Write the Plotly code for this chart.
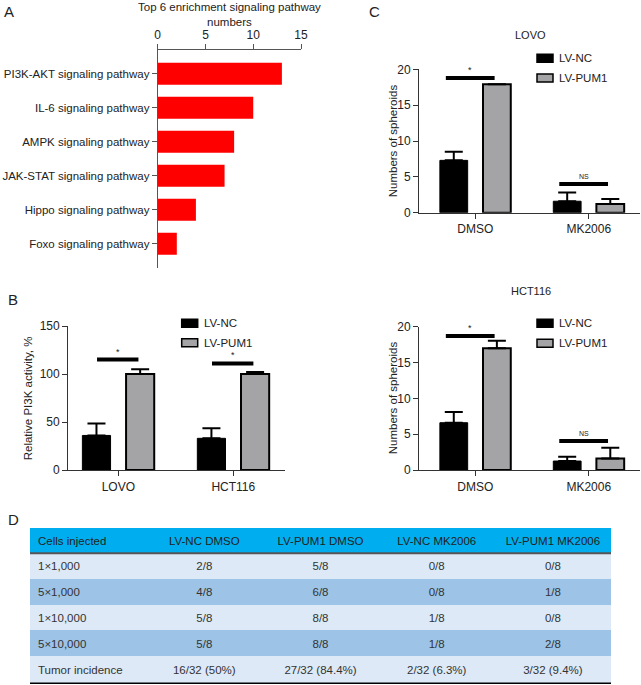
import plotly.graph_objects as go

W, H = 641, 685

# ---------------- data ----------------
pathways = ["PI3K-AKT signaling pathway", "IL-6 signaling pathway", "AMPK signaling pathway",
            "JAK-STAT signaling pathway", "Hippo signaling pathway", "Foxo signaling pathway"]
pathway_counts = [13, 10, 8, 7, 4, 2]

series_names = ["LV-NC", "LV-PUM1"]

b_groups = ["LOVO", "HCT116"]
b_nc = [36, 33]
b_nc_err = [12.5, 10.5]
b_pum1 = [100, 100]
b_pum1_err = [5, 2]
b_sig_y = [115, 111]
b_sig_text = ["*", "*"]

c_groups = ["DMSO", "MK2006"]
lovo_nc = [7.3, 1.6]
lovo_nc_err = [1.2, 1.2]
lovo_pum1 = [17.9, 1.2]
lovo_pum1_err = [0, 0.7]
lovo_sig_y = [18.8, 4.0]
lovo_sig_text = ["*", "NS"]

hct_nc = [6.6, 1.25]
hct_nc_err = [1.5, 0.6]
hct_pum1 = [17.0, 1.6]
hct_pum1_err = [1.05, 1.5]
hct_sig_y = [18.7, 4.05]
hct_sig_text = ["*", "NS"]

table_header = ["Cells injected", "LV-NC DMSO", "LV-PUM1 DMSO", "LV-NC MK2006", "LV-PUM1 MK2006"]
cells_injected = ["1\u00d71,000", "5\u00d71,000", "1\u00d710,000", "5\u00d710,000", "Tumor incidence"]
nc_dmso = ["2/8", "4/8", "5/8", "5/8", "16/32 (50%)"]
pum1_dmso = ["5/8", "6/8", "8/8", "8/8", "27/32 (84.4%)"]
nc_mk = ["0/8", "0/8", "1/8", "1/8", "2/32 (6.3%)"]
pum1_mk = ["0/8", "1/8", "0/8", "2/8", "3/32 (9.4%)"]

# ---------------- helpers ----------------
def px(x):
    return x / W

def py(y):
    return 1 - y / H

FONT = "Liberation Sans, Arial, Helvetica, sans-serif"
TXT = "#222222"
BLACK = "#000000"
GRAY = "#a4a4a7"
BAR_W = 0.245
OFF = 0.19

fig = go.Figure()

# Panel A
fig.add_trace(go.Bar(y=pathways, x=pathway_counts, orientation="h", xaxis="x", yaxis="y",
                     marker=dict(color="#fe0000", line=dict(width=0)), width=0.65,
                     showlegend=False))

def add_group(xax, yax, groups, nc, nc_err, pum1, pum1_err):
    fig.add_trace(go.Bar(x=groups, y=nc, name=series_names[0], xaxis=xax, yaxis=yax,
                         width=BAR_W, offset=-OFF - BAR_W / 2,
                         marker=dict(color=BLACK, line=dict(color=BLACK, width=1)),
                         error_y=dict(type="data", array=nc_err, arrayminus=[0] * len(nc),
                                      symmetric=False, color=BLACK, thickness=2, width=9),
                         showlegend=False))
    fig.add_trace(go.Bar(x=groups, y=pum1, name=series_names[1], xaxis=xax, yaxis=yax,
                         width=BAR_W, offset=OFF - BAR_W / 2,
                         marker=dict(color=GRAY, line=dict(color=BLACK, width=2)),
                         error_y=dict(type="data", array=pum1_err, arrayminus=[0] * len(pum1),
                                      symmetric=False, color=BLACK, thickness=2, width=9),
                         showlegend=False))

add_group("x2", "y2", b_groups, b_nc, b_nc_err, b_pum1, b_pum1_err)
add_group("x3", "y3", c_groups, lovo_nc, lovo_nc_err, lovo_pum1, lovo_pum1_err)
add_group("x4", "y4", c_groups, hct_nc, hct_nc_err, hct_pum1, hct_pum1_err)

# Panel D table
row_colors = ["#dde9f6", "#9dc3e6", "#dde9f6", "#9dc3e6", "#dde9f6"]
fig.add_trace(go.Table(
    domain=dict(x=[px(30), px(611)], y=[0, py(528.3)]),
    columnwidth=[1, 1, 1, 1, 1],
    header=dict(values=table_header, fill_color="#00aeef", line=dict(color="#00aeef", width=1),
                align=["left", "center", "center", "center", "center"],
                font=dict(family=FONT, size=11.5, color=TXT), height=25),
    cells=dict(values=[cells_injected, nc_dmso, pum1_dmso, nc_mk, pum1_mk],
               fill_color=[row_colors] * 5, line=dict(color=[row_colors] * 5, width=1),
               align=["left", "center", "center", "center", "center"],
               font=dict(family=FONT, size=11.5, color="#333333"), height=25.9),
))

axis_common = dict(showgrid=False, zeroline=False, showline=True, ticks="outside",
                   automargin=False, fixedrange=True)
tickfont = dict(family=FONT, size=12, color=TXT)

layout = dict(
    width=W, height=H, margin=dict(l=0, r=0, t=0, b=0, autoexpand=False),
    paper_bgcolor="white", plot_bgcolor="white", barmode="overlay",
    font=dict(family=FONT, size=12, color=TXT),
    xaxis=dict(domain=[px(157.7), px(301)], anchor="y", side="top", range=[0, 15],
               tickvals=[0, 5, 10, 15], linecolor="#555", linewidth=1, tickcolor="#555",
               ticklen=5, tickfont=tickfont, **axis_common),
    yaxis=dict(domain=[py(267.6), py(50)], anchor="x", type="category",
               categoryorder="array", categoryarray=pathways, range=[5.7, -0.7],
               linecolor="#555", linewidth=1, tickcolor="#555", ticklen=5,
               tickfont=dict(family=FONT, size=11.5, color=TXT), **axis_common),
    xaxis2=dict(domain=[px(68.3), px(285)], anchor="y2", type="category",
                range=[-0.435, 1.45], linecolor="#333", linewidth=1.2, tickcolor="#333",
                ticklen=5, tickfont=tickfont, **axis_common),
    yaxis2=dict(domain=[py(470), py(326)], anchor="x2", range=[0, 150],
                tickvals=[0, 50, 100, 150], linecolor="#333", linewidth=1.2,
                tickcolor="#333", ticklen=5, tickfont=tickfont, **axis_common),
    xaxis3=dict(domain=[px(419.3), px(640)], anchor="y3", type="category",
                range=[-0.494, 1.452], linecolor="#333", linewidth=1.2, tickcolor="#333",
                ticklen=5, tickfont=tickfont, **axis_common),
    yaxis3=dict(domain=[py(212.7), py(69.3)], anchor="x3", range=[0, 20],
                tickvals=[0, 5, 10, 15, 20], linecolor="#333", linewidth=1.2,
                tickcolor="#333", ticklen=5, tickfont=tickfont, **axis_common),
    xaxis4=dict(domain=[px(419.3), px(640)], anchor="y4", type="category",
                range=[-0.494, 1.452], linecolor="#333", linewidth=1.2, tickcolor="#333",
                ticklen=5, tickfont=tickfont, **axis_common),
    yaxis4=dict(domain=[py(470), py(326.7)], anchor="x4", range=[0, 20],
                tickvals=[0, 5, 10, 15, 20], linecolor="#333", linewidth=1.2,
                tickcolor="#333", ticklen=5, tickfont=tickfont, **axis_common),
)
fig.update_layout(**layout)

shapes = []
annotations = []

# significance bars
def add_sig(xref, yref, sig_y, sig_text, left, right):
    for i, (yv, t) in enumerate(zip(sig_y, sig_text)):
        shapes.append(dict(type="line", xref=xref, yref=yref, x0=i - left, x1=i + right,
                           y0=yv, y1=yv, line=dict(color=BLACK, width=4)))
        fs = 9 if t == "*" else 7
        annotations.append(dict(xref=xref, yref=yref, x=i - (left - right) / 2, y=yv,
                                text=t, showarrow=False, yanchor="bottom",
                                yshift=1 if t == "*" else 2,
                                font=dict(family=FONT, size=fs, color=TXT)))

add_sig("x2", "y2", b_sig_y, b_sig_text, 0.185, 0.175)
add_sig("x3", "y3", lovo_sig_y, lovo_sig_text, 0.26, 0.17)
add_sig("x4", "y4", hct_sig_y, hct_sig_text, 0.26, 0.17)

# manual legends
def add_legend(x_box, y_centers):
    fills = [BLACK, GRAY]
    for name, fill, yc in zip(series_names, fills, y_centers):
        shapes.append(dict(type="rect", xref="paper", yref="paper",
                           x0=px(x_box), x1=px(x_box + 16), y0=py(yc + 4), y1=py(yc - 4),
                           fillcolor=fill, line=dict(color=BLACK, width=1.5)))
        annotations.append(dict(xref="paper", yref="paper", x=px(x_box + 20), y=py(yc),
                                text=name, showarrow=False, xanchor="left", yanchor="middle",
                                font=dict(family=FONT, size=11.5, color=TXT)))

add_legend(181.7, [323.3, 342.7])
add_legend(537, [58.3, 78])
add_legend(537, [323.3, 343.3])

# titles
def ann(x, y, text, size=12, xanchor="center", angle=0):
    annotations.append(dict(xref="paper", yref="paper", x=px(x), y=py(y), text=text,
                            showarrow=False, xanchor=xanchor, yanchor="middle",
                            textangle=angle, font=dict(family=FONT, size=size, color=TXT)))

ann(229.4, 15, "Top 6 enrichment signaling pathway<br>numbers", 11.5)
ann(530.7, 35, "LOVO", 11)
ann(530.7, 291, "HCT116", 11)
ann(28.3, 398, "Relative PI3K activity, %", 11.5, angle=-90)
ann(393.3, 141, "Numbers of spheroids", 11.5, angle=-90)
ann(393.3, 398, "Numbers of spheroids", 11.5, angle=-90)

ann(2, 12, "A", 15, "left")
ann(6, 299, "B", 15, "left")
ann(367, 11.5, "C", 15, "left")
ann(6, 519, "D", 15, "left")

# table rules
shapes.append(dict(type="line", xref="paper", yref="paper", x0=px(30), x1=px(611),
                   y0=py(553.3), y1=py(553.3), line=dict(color="#555555", width=2)))
shapes.append(dict(type="line", xref="paper", yref="paper", x0=px(30), x1=px(611),
                   y0=py(683.3), y1=py(683.3), line=dict(color=BLACK, width=1.5)))

fig.update_layout(shapes=shapes, annotations=annotations)

fig.write_html("out.html",
               config={"displayModeBar": False, "staticPlot": True},
               post_script="document.body.style.margin='0px';"
                           "document.body.style.overflow='hidden';")
